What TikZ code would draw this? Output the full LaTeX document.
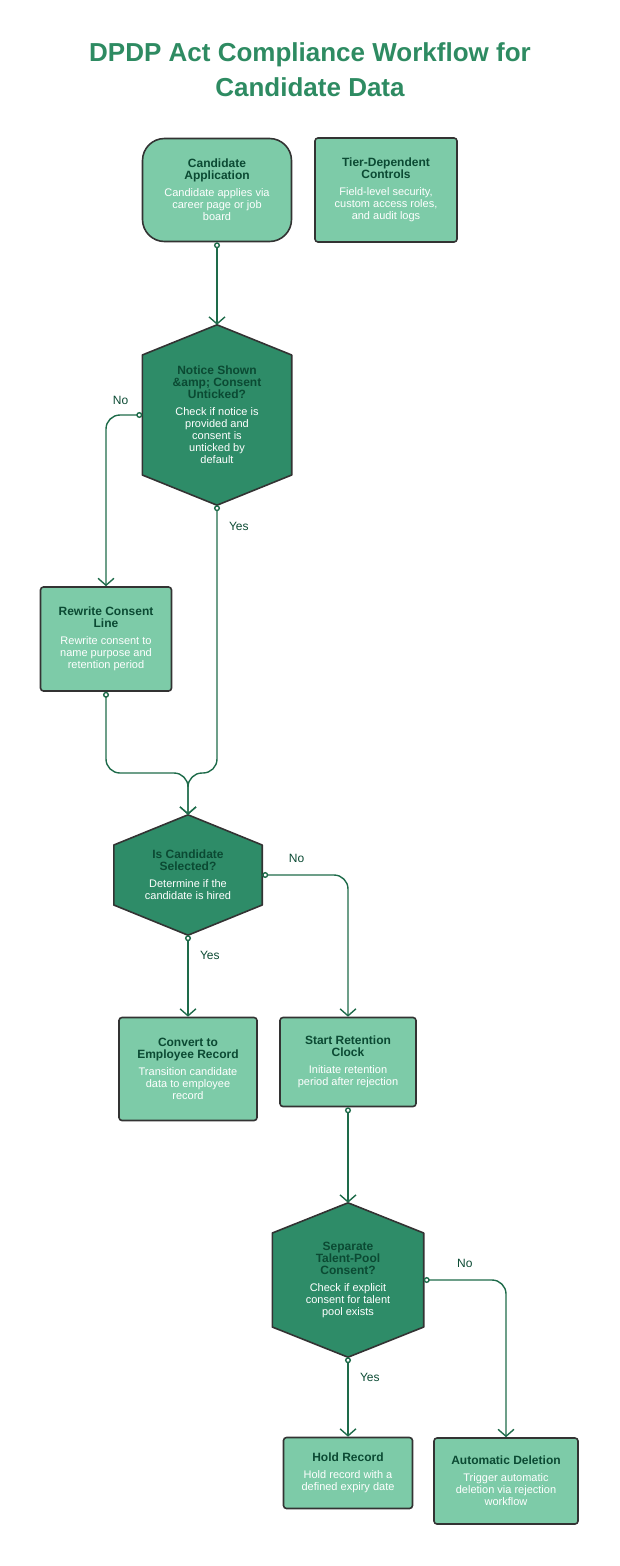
\documentclass[tikz,border=0pt]{standalone}
\usepackage{fontspec}
\setmainfont{Liberation Sans}
\usetikzlibrary{arrows.meta,backgrounds}
\definecolor{titlegreen}{HTML}{2E8B62}
\definecolor{lightfill}{HTML}{7DCBA8}
\definecolor{darkfill}{HTML}{2E8C68}
\definecolor{headtext}{HTML}{0B4A33}
\definecolor{linkgreen}{HTML}{1E6B4A}
\newcommand\hexback[2]{\begin{scope}[on background layer]\filldraw[draw=black!80, line width=1.6pt, fill=darkfill, line join=round] (#1.north) -- ([yshift=#2]#1.east) -- ([yshift=-#2]#1.east) -- (#1.south) -- ([yshift=-#2]#1.west) -- ([yshift=#2]#1.west) -- cycle;\end{scope}}
\newcommand\hd{\bfseries\color{headtext}\fontsize{12}{15}\selectfont}
\newcommand\bd{\color{white}\fontsize{11}{14}\selectfont}

\begin{document}
\begin{tikzpicture}[x=1pt, y=-1pt,
	box/.style={rounded corners=3pt, fill=lightfill, draw=black!80, line width=1.6pt, align=center, inner sep=0pt},
	hex/.style={align=center, inner sep=0pt},
	link/.style={draw=linkgreen, line width=1.4pt, rounded corners=14pt, {Circle[open,length=6pt,width=6pt]}-{Straight Barb[length=7pt,width=16pt]}},
	lbl/.style={text=headtext, font=\fontsize{12}{14}\selectfont}]
	\useasboundingbox (0,0) rectangle (620,1566);
	% title
	\node[align=center, text=titlegreen, font=\bfseries\fontsize{26}{35}\selectfont] (Title) at (310,70) {DPDP Act Compliance Workflow for\\Candidate Data};
	% nodes
	\node[box, rounded corners=22pt, minimum width=149pt, minimum height=103pt] (Application) at (217,190) {\hd Candidate\\\hd Application\\[5pt]\bd Candidate applies via\\\bd career page or job\\\bd board};
	\node[box, minimum width=142pt, minimum height=104pt] (Controls) at (386,190) {\hd Tier-Dependent\\\hd Controls\\[5pt]\bd Field-level security,\\\bd custom access roles,\\\bd and audit logs};
	\node[hex, minimum width=149pt, minimum height=180pt] (Notice) at (217,415) {\hd Notice Shown\\\hd \&amp; Consent\\\hd Unticked?\\[5pt]\bd Check if notice is\\\bd provided and\\\bd consent is\\\bd unticked by\\\bd default};
	\node[box, minimum width=131pt, minimum height=104pt] (Rewrite) at (106,639) {\hd Rewrite Consent\\\hd Line\\[5pt]\bd Rewrite consent to\\\bd name purpose and\\\bd retention period};
	\node[hex, minimum width=148pt, minimum height=120pt] (Selected) at (188,875) {\hd Is Candidate\\\hd Selected?\\[5pt]\bd Determine if the\\\bd candidate is hired};
	\node[box, minimum width=138pt, minimum height=103pt] (Employee) at (188,1069) {\hd Convert to\\\hd Employee Record\\[5pt]\bd Transition candidate\\\bd data to employee\\\bd record};
	\node[box, minimum width=136pt, minimum height=89pt] (Retention) at (348,1062) {\hd Start Retention\\\hd Clock\\[5pt]\bd Initiate retention\\\bd period after rejection};
	\node[hex, minimum width=151pt, minimum height=154pt] (TalentPool) at (348,1280) {\hd Separate\\\hd Talent-Pool\\\hd Consent?\\[5pt]\bd Check if explicit\\\bd consent for talent\\\bd pool exists};
	\node[box, minimum width=129pt, minimum height=71pt] (Hold) at (348,1473) {\hd Hold Record\\[5pt]\bd Hold record with a\\\bd defined expiry date};
	\node[box, minimum width=144pt, minimum height=86pt] (Deletion) at (506,1481) {\hd Automatic Deletion\\[5pt]\bd Trigger automatic\\\bd deletion via rejection\\\bd workflow};
	\hexback{Notice}{60pt}
	\hexback{Selected}{30pt}
	\hexback{TalentPool}{47pt}
	% connectors
	\draw[link] (Application.south) -- (Notice.north);
	\draw[link] (Notice.west) -| node[lbl, pos=0.3, above=6pt]{No} (Rewrite.north);
	\draw[link] (Notice.south) -- node[lbl, pos=0.08, right=8pt]{Yes} (217,773) -| (Selected.north);
	\draw[link] (Rewrite.south) |- (188,773) -- (Selected.north);
	\draw[link] (Selected.east) -| node[lbl, pos=0.2, above=8pt]{No} (Retention.north);
	\draw[link] (Selected.south) -- node[lbl, pos=0.25, right=8pt]{Yes} (Employee.north);
	\draw[link] (Retention.south) -- (TalentPool.north);
	\draw[link] (TalentPool.east) -| node[lbl, pos=0.25, above=8pt]{No} (Deletion.north);
	\draw[link] (TalentPool.south) -- node[lbl, pos=0.25, right=8pt]{Yes} (Hold.north);
\end{tikzpicture}
\end{document}
